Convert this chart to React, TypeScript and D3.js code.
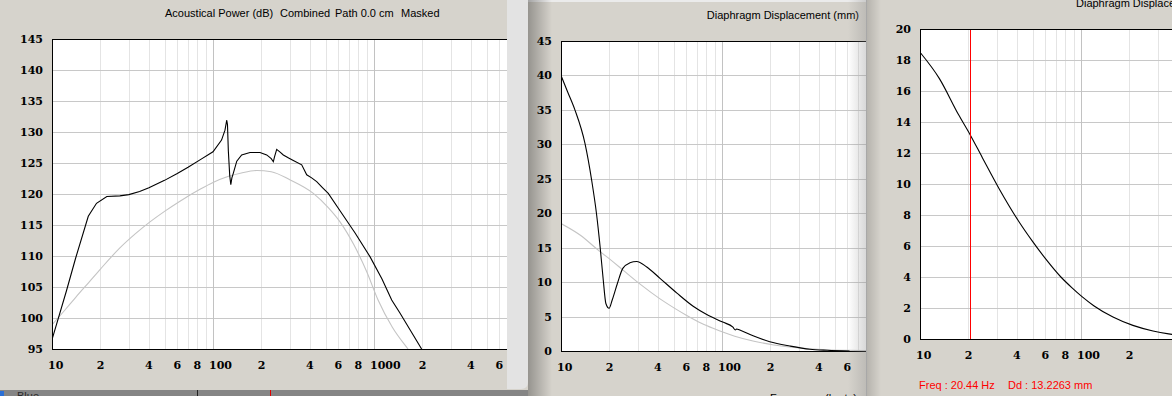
import React from 'react';
import * as d3 from 'd3';

// ---------- DATA ----------
const powerFreq = [10, 12.3, 14, 16.8, 18.9, 21.9, 26.4, 30, 35, 40, 50, 60, 70, 83, 100, 113, 118.7, 121.7, 123, 124.5, 127, 129, 131, 133.5, 140.5, 150.7, 169.7, 195.9, 215.6, 230, 237, 241, 248.7, 260, 273.4, 295, 315.4, 355.6, 382, 410, 440.6, 480, 520, 615, 763, 944, 1121, 1288, 1449, 1674, 1976, 2100];
const powerDb = [96.5, 104.4, 109.6, 116.4, 118.5, 119.6, 119.7, 119.9, 120.4, 121.0, 122.2, 123.3, 124.3, 125.5, 126.8, 128.7, 130.3, 131.9, 131.2, 127.0, 123.0, 121.5, 122.6, 123.3, 125.3, 126.3, 126.7, 126.7, 126.3, 125.7, 125.2, 126.0, 127.2, 126.8, 126.3, 125.8, 125.4, 124.7, 123.1, 122.6, 122.0, 121.0, 120.1, 117.3, 113.7, 109.9, 106.3, 102.9, 100.8, 98.1, 95.0, 94.0];

const powerRefFreq = [10, 12, 14, 17, 20, 26.4, 33, 40.6, 50, 62, 83, 100, 125, 150, 187, 230, 300, 420, 520, 615, 750, 900, 1060, 1300, 1625, 1800];
const powerRefDb = [98.9, 101.25, 103.3, 105.8, 107.9, 111.3, 113.6, 115.5, 117.2, 118.8, 120.75, 121.85, 122.85, 123.4, 123.8, 123.6, 122.3, 120.1, 117.8, 115.5, 111.8, 107.5, 102.9, 98.5, 95.0, 93.5];

const dispFreq = [10, 11, 12.2, 14.1, 15.5, 16.6, 17.5, 18.3, 19.0, 19.9, 20.8, 22.4, 24.2, 26.8, 29.5, 34.1, 41.2, 52.5, 66.2, 80.4, 101, 117, 121, 123, 130, 156, 198, 264, 351, 450, 620];
const dispMm = [40.0, 37.6, 35.0, 30.1, 24.8, 20.0, 15.1, 10.3, 6.9, 6.2, 7.4, 9.8, 12.0, 12.8, 13.0, 12.2, 10.55, 8.4, 6.5, 5.3, 4.2, 3.45, 3.05, 3.2, 3.0, 2.2, 1.35, 0.72, 0.25, 0.1, 0.0];

const excFreq = [10, 13.2, 17.3, 20.44, 24.4, 31, 41, 50, 60, 75, 88, 101, 120, 158, 210, 280, 350, 450, 600, 800];
const excMm = [18.5, 16.8, 14.5, 13.2, 11.7, 9.7, 7.6, 6.3, 5.2, 4.0, 3.3, 2.75, 2.15, 1.42, 0.88, 0.52, 0.33, 0.19, 0.1, 0.05];

const powerYTicks = [95, 100, 105, 110, 115, 120, 125, 130, 135, 140, 145];
const dispYTicks = [0, 5, 10, 15, 20, 25, 30, 35, 40, 45];
const excYTicks = [0, 2, 4, 6, 8, 10, 12, 14, 16, 18, 20];

const xTicks1 = [10, 20, 40, 60, 80, 100, 200, 400, 600, 800, 1000, 2000, 4000, 6000];
const xLabels1 = ['10', '2', '4', '6', '8', '100', '2', '4', '6', '8', '1000', '2', '4', '6'];
const xTicks2 = [10, 20, 40, 60, 80, 100, 200, 400, 600];
const xLabels2 = ['10', '2', '4', '6', '8', '100', '2', '4', '6'];
const xTicks3 = [10, 20, 40, 60, 80, 100, 200];
const xLabels3 = ['10', '2', '4', '6', '8', '100', '2'];

const cursorFreq = 20.44;
const cursorText = ['Freq : 20.44 Hz', 'Dd : 13.2263 mm'];

const title1 = ['Acoustical Power (dB)', 'Combined', 'Path 0.0 cm', 'Masked'];
const title2 = 'Diaphragm Displacement (mm)';
const xAxisTitle = 'Frequency (hertz)';

// ---------- STYLE ----------
const BG = '#d6d3cc';
const LABEL_FONT = '"DejaVu Serif", serif';
const UI_FONT = '"Liberation Sans", Arial, sans-serif';
const DECADE = 161;

type Series = { f: number[]; v: number[]; color: string; curve?: any };

function Chart(props: {
  id: string;
  left: number;
  top: number;
  bottom: number;
  right: number;
  yDomain: [number, number];
  yTicks: number[];
  xTicks: number[];
  xLabels: string[];
  series: Series[];
  extra?: (x: any, y: any) => React.ReactNode;
}) {
  const { id, left, top, bottom, right, yDomain, yTicks, xTicks, xLabels, series } = props;
  const x = d3.scaleLog().domain([10, 10000]).range([left, left + 3 * DECADE]);
  const y = d3.scaleLinear().domain(yDomain).range([bottom, top]);
  const maxF = x.invert(right);
  const minor: { f: number; decade: boolean }[] = [];
  for (let dec = 10; dec <= 100000; dec *= 10) {
    for (let k = 1; k <= 9; k++) {
      const f = dec * k;
      if (f > 10 && f < maxF) minor.push({ f, decade: k === 1 });
    }
  }
  return (
    <g>
      <defs>
        <clipPath id={id}>
          <rect x={left} y={top} width={right - left} height={bottom - top} />
        </clipPath>
      </defs>
      <rect x={left} y={top} width={right - left} height={bottom - top} fill="#ffffff" />
      <g clipPath={`url(#${id})`}>
        {minor.filter(m => !m.decade).map((m, i) => (
          <line key={'m' + i} x1={Math.round(x(m.f)) + 0.5} x2={Math.round(x(m.f)) + 0.5} y1={top} y2={bottom} stroke="#e4e4e4" />
        ))}
        {yTicks.map((t, i) => (
          <line key={'h' + i} x1={left} x2={right} y1={Math.round(y(t)) + 0.5} y2={Math.round(y(t)) + 0.5} stroke="#c8c8c8" />
        ))}
        {minor.filter(m => m.decade).map((m, i) => (
          <line key={'d' + i} x1={Math.round(x(m.f)) + 0.5} x2={Math.round(x(m.f)) + 0.5} y1={top} y2={bottom} stroke="#c2c2c2" />
        ))}
        {series.map((s, i) => {
          const pts: [number, number][] = s.f.map((f, j) => [f, s.v[j]]);
          const line = d3
            .line<[number, number]>()
            .x(d => x(d[0]))
            .y(d => y(d[1]))
            .curve(s.curve || d3.curveMonotoneX);
          return <path key={'s' + i} d={line(pts) || ''} fill="none" stroke={s.color} strokeWidth={1.1} />;
        })}
        {props.extra ? props.extra(x, y) : null}
      </g>
      <line x1={left + 0.5} x2={left + 0.5} y1={top} y2={bottom + 1} stroke="#000" />
      <line x1={left} x2={right} y1={top + 0.5} y2={top + 0.5} stroke="#000" />
      <line x1={left} x2={right} y1={bottom + 0.5} y2={bottom + 0.5} stroke="#000" />
      {yTicks.map((t, i) => (
        <text key={'yl' + i} x={left - 9} y={y(t) + 4} textAnchor="end" fontFamily={LABEL_FONT} fontWeight="bold" fontSize={11} fill="#000">
          {t}
        </text>
      ))}
      {xTicks.map((t, i) => {
        const lab = xLabels[i];
        const multi = lab.length > 1;
        return (
          <text key={'xl' + i} x={multi ? x(t) - 4 : x(t)} y={bottom + 20} textAnchor={multi ? 'start' : 'middle'} fontFamily={LABEL_FONT} fontWeight="bold" fontSize={11} fill="#000">
            {lab}
          </text>
        );
      })}
    </g>
  );
}

export default function App() {
  const W = 1172;
  const H = 396;
  return (
    <svg width={W} height={H} style={{ display: 'block', position: 'absolute', left: 0, top: 0 }}>
      <defs>
        <linearGradient id="shadow1" x1="0" x2="1" y1="0" y2="0">
          <stop offset="0" stopColor="#000" stopOpacity={0.3} />
          <stop offset="1" stopColor="#000" stopOpacity={0} />
        </linearGradient>
        <linearGradient id="edge2" x1="0" x2="1" y1="0" y2="0">
          <stop offset="0" stopColor="#909090" stopOpacity={0} />
          <stop offset="1" stopColor="#909090" stopOpacity={0.35} />
        </linearGradient>
      </defs>
      <rect x={0} y={0} width={W} height={H} fill={BG} />

      {/* Window 3 */}
      <Chart
        id="c3"
        left={920}
        top={29}
        bottom={339}
        right={1200}
        yDomain={[0, 20]}
        yTicks={excYTicks}
        xTicks={xTicks3}
        xLabels={xLabels3}
        series={[{ f: excFreq, v: excMm, color: '#000' }]}
        extra={(x, y) => (
          <line x1={Math.round(x(cursorFreq)) + 0.5} x2={Math.round(x(cursorFreq)) + 0.5} y1={29} y2={339} stroke="#ff0000" />
        )}
      />
      <text x={1076} y={7} fontFamily={UI_FONT} fontSize={11} fill="#000">{title2}</text>
      <text x={919} y={389} fontFamily={UI_FONT} fontSize={11} fill="#ff0000">{cursorText[0]}</text>
      <text x={1008} y={389} fontFamily={UI_FONT} fontSize={11} fill="#ff0000">{cursorText[1]}</text>

      {/* Window 2 */}
      <rect x={528} y={0} width={338} height={H} fill={BG} />
      <rect x={528} y={0} width={338} height={2} fill="#ebebeb" />
      <Chart
        id="c2"
        left={561}
        top={41}
        bottom={351}
        right={866}
        yDomain={[0, 45]}
        yTicks={dispYTicks}
        xTicks={xTicks2}
        xLabels={xLabels2}
        series={[
          { f: excFreq, v: excMm, color: '#c4c4c4' },
          { f: dispFreq, v: dispMm, color: '#000' },
        ]}
      />
      <text x={859} y={19} textAnchor="end" fontFamily={UI_FONT} fontSize={11} fill="#000">{title2}</text>
      <text x={770} y={402} fontFamily={UI_FONT} fontSize={11} fill="#000">{xAxisTitle}</text>
      <rect x={848} y={0} width={18} height={H} fill="url(#edge2)" />
      <line x1={866.5} x2={866.5} y1={0} y2={H} stroke="#a8a8a8" />
      <rect x={867} y={0} width={14} height={H} fill="url(#shadow1)" opacity={0.5} />
      <rect x={528} y={0} width={24} height={H} fill="url(#shadow1)" />

      {/* Window 1 */}
      <rect x={0} y={0} width={507} height={390} fill={BG} />
      <Chart
        id="c1"
        left={52}
        top={39}
        bottom={349}
        right={507}
        yDomain={[95, 145]}
        yTicks={powerYTicks}
        xTicks={xTicks1}
        xLabels={xLabels1}
        series={[
          { f: powerRefFreq, v: powerRefDb, color: '#c4c4c4' },
          { f: powerFreq, v: powerDb, color: '#000', curve: d3.curveLinear },
        ]}
      />
      <text x={165} y={17} fontFamily={UI_FONT} fontSize={11} fill="#000">{title1[0]}</text>
      <text x={280} y={17} fontFamily={UI_FONT} fontSize={11} fill="#000">{title1[1]}</text>
      <text x={335} y={17} fontFamily={UI_FONT} fontSize={11} fill="#000">{title1[2]}</text>
      <text x={401} y={17} fontFamily={UI_FONT} fontSize={11} fill="#000">{title1[3]}</text>
      <path d="M507,0 H528 V382 Q528,389 521,389 H507 Z" fill="#e3e3e3" />
      {/* below window 1 */}
      <rect x={0} y={390} width={528} height={6} fill="#858585" />
      <rect x={0} y={391} width={4} height={5} fill="#2a6fd6" />
      <text x={17} y={400} fontFamily={UI_FONT} fontSize={11} fill="#2a2a2a">Blue</text>
      <line x1={197.5} x2={197.5} y1={390} y2={396} stroke="#222" />
      <line x1={270.5} x2={270.5} y1={390} y2={396} stroke="#e00000" />
    </svg>
  );
}
